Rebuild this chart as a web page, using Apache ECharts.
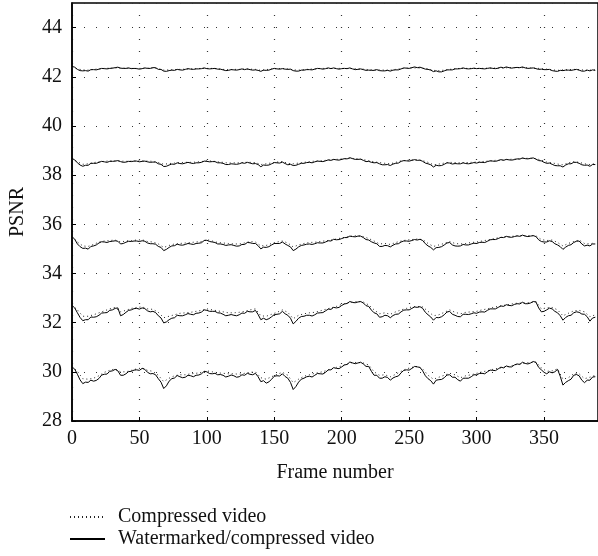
<!DOCTYPE html>
<html><head><meta charset="utf-8">
<script src="https://cdn.jsdelivr.net/npm/echarts@6/dist/echarts.min.js"></script>
<style>html,body{margin:0;padding:0;background:#fff}#c{width:598px;height:556px}</style>
</head><body><div id="c"></div><script>
// frames sampled every 4
const frames4 = [0,4,8,12,16,20,24,28,32,36,40,44,48,52,56,60,64,68,72,76,80,84,88,92,96,100,104,108,112,116,120,124,128,132,136,140,144,148,152,156,160,164,168,172,176,180,184,188,192,196,200,204,208,212,216,220,224,228,232,236,240,244,248,252,256,260,264,268,272,276,280,284,288,292,296,300,304,308,312,316,320,324,328,332,336,340,344,348,352,356,360,364,368,372,376,380,384,388];
// frames sampled every 2
const frames2 = [0,2,4,6,8,10,12,14,16,18,20,22,24,26,28,30,32,34,36,38,40,42,44,46,48,50,52,54,56,58,60,62,64,66,68,70,72,74,76,78,80,82,84,86,88,90,92,94,96,98,100,102,104,106,108,110,112,114,116,118,120,122,124,126,128,130,132,134,136,138,140,142,144,146,148,150,152,154,156,158,160,162,164,166,168,170,172,174,176,178,180,182,184,186,188,190,192,194,196,198,200,202,204,206,208,210,212,214,216,218,220,222,224,226,228,230,232,234,236,238,240,242,244,246,248,250,252,254,256,258,260,262,264,266,268,270,272,274,276,278,280,282,284,286,288,290,292,294,296,298,300,302,304,306,308,310,312,314,316,318,320,322,324,326,328,330,332,334,336,338,340,342,344,346,348,350,352,354,356,358,360,362,364,366,368,370,372,374,376,378,380,382,384,386,388];

const wm1 = [42.42,42.39,42.30,42.25,42.24,42.25,42.23,42.29,42.29,42.28,
42.31,42.34,42.33,42.32,42.34,42.35,42.37,42.39,42.35,42.34,
42.34,42.36,42.33,42.34,42.33,42.31,42.33,42.36,42.34,42.34,
42.37,42.37,42.30,42.30,42.23,42.22,42.25,42.27,42.26,42.30,
42.28,42.27,42.30,42.33,42.31,42.30,42.32,42.32,42.33,42.36,
42.33,42.32,42.33,42.34,42.31,42.31,42.28,42.25,42.26,42.29,
42.28,42.27,42.29,42.32,42.29,42.32,42.29,42.27,42.28,42.26,
42.22,42.27,42.26,42.27,42.31,42.34,42.32,42.31,42.33,42.31,
42.30,42.31,42.25,42.23,42.23,42.27,42.27,42.29,42.29,42.28,
42.31,42.34,42.33,42.31,42.33,42.36,42.33,42.36,42.33,42.31,
42.33,42.34,42.33,42.36,42.32,42.29,42.30,42.32,42.29,42.26,
42.27,42.26,42.26,42.29,42.25,42.24,42.24,42.26,42.23,42.27,
42.28,42.28,42.32,42.36,42.35,42.34,42.37,42.40,42.37,42.39,
42.35,42.31,42.30,42.27,42.21,42.24,42.20,42.20,42.24,42.28,
42.28,42.28,42.32,42.32,42.33,42.36,42.33,42.32,42.33,42.35,
42.33,42.34,42.33,42.32,42.34,42.36,42.34,42.33,42.35,42.39,
42.36,42.40,42.37,42.35,42.37,42.38,42.37,42.40,42.36,42.34,
42.35,42.36,42.33,42.30,42.31,42.29,42.29,42.30,42.25,42.23,
42.22,42.26,42.25,42.27,42.27,42.26,42.28,42.30,42.27,42.23,
42.23,42.27,42.24,42.28,42.26];
const comp1 = [42.40,42.32,42.28,42.27,42.30,42.32,42.34,42.35,42.36,42.35,42.35,42.34,42.34,42.34,42.35,42.36,42.32,42.27,42.28,42.29,42.30,42.31,42.32,42.33,42.34,42.34,42.34,42.32,42.30,42.29,42.30,42.30,42.31,42.31,42.30,42.26,42.29,42.32,42.33,42.34,42.32,42.28,42.27,42.29,42.31,42.32,42.34,42.34,42.34,42.34,42.34,42.34,42.33,42.32,42.31,42.29,42.28,42.28,42.27,42.27,42.30,42.33,42.35,42.36,42.36,42.35,42.32,42.26,42.25,42.27,42.30,42.33,42.34,42.34,42.34,42.34,42.34,42.35,42.35,42.36,42.36,42.37,42.37,42.37,42.37,42.36,42.35,42.33,42.31,42.28,42.26,42.28,42.29,42.30,42.29,42.27,42.27,42.28];

const wm2 = [38.68,38.62,38.50,38.41,38.36,38.40,38.40,38.48,38.48,38.48,
38.52,38.56,38.54,38.52,38.56,38.56,38.57,38.59,38.55,38.52,
38.53,38.56,38.55,38.57,38.57,38.54,38.56,38.57,38.54,38.52,
38.53,38.53,38.46,38.44,38.35,38.36,38.41,38.45,38.44,38.50,
38.47,38.46,38.49,38.52,38.49,38.47,38.50,38.50,38.52,38.57,
38.56,38.54,38.55,38.55,38.50,38.50,38.48,38.43,38.43,38.46,
38.45,38.44,38.46,38.50,38.48,38.52,38.49,38.46,38.47,38.43,
38.34,38.41,38.40,38.41,38.46,38.51,38.50,38.49,38.53,38.47,
38.42,38.44,38.39,38.40,38.44,38.48,38.48,38.51,38.52,38.50,
38.54,38.57,38.56,38.55,38.58,38.62,38.60,38.64,38.62,38.61,
38.64,38.67,38.66,38.71,38.67,38.64,38.64,38.65,38.60,38.55,
38.56,38.52,38.50,38.51,38.46,38.42,38.42,38.43,38.39,38.45,
38.48,38.49,38.56,38.59,38.58,38.57,38.60,38.63,38.60,38.61,
38.56,38.49,38.46,38.42,38.33,38.40,38.38,38.39,38.44,38.50,
38.49,38.45,38.47,38.46,38.46,38.50,38.47,38.46,38.48,38.51,
38.49,38.52,38.52,38.51,38.55,38.58,38.57,38.56,38.59,38.63,
38.60,38.64,38.62,38.61,38.63,38.66,38.65,38.70,38.67,38.66,
38.68,38.70,38.65,38.59,38.58,38.52,38.48,38.49,38.44,38.39,
38.38,38.38,38.33,38.41,38.46,38.46,38.52,38.52,38.48,38.42,
38.40,38.41,38.36,38.43,38.43];
const comp2 = [38.66,38.54,38.44,38.46,38.51,38.54,38.56,38.58,38.58,38.57,38.56,38.57,38.58,38.58,38.57,38.56,38.51,38.44,38.47,38.49,38.51,38.52,38.52,38.53,38.55,38.58,38.57,38.54,38.52,38.49,38.50,38.50,38.52,38.52,38.51,38.43,38.46,38.50,38.53,38.55,38.48,38.46,38.49,38.52,38.55,38.57,38.58,38.60,38.62,38.64,38.66,38.67,38.68,38.66,38.63,38.59,38.54,38.51,38.48,38.46,38.52,38.58,38.60,38.62,38.62,38.59,38.52,38.42,38.45,38.49,38.52,38.51,38.50,38.51,38.52,38.53,38.55,38.57,38.59,38.61,38.62,38.64,38.65,38.67,38.68,38.69,38.67,38.61,38.53,38.50,38.45,38.42,38.50,38.55,38.52,38.46,38.43,38.47];

const wm3 = [35.50,35.39,35.20,35.09,35.02,35.03,34.99,35.10,35.12,35.16,
35.24,35.29,35.28,35.26,35.30,35.31,35.33,35.31,35.20,35.22,
35.27,35.31,35.30,35.32,35.32,35.30,35.33,35.31,35.24,35.21,
35.21,35.19,35.10,35.06,34.93,34.98,35.06,35.12,35.13,35.19,
35.16,35.15,35.18,35.22,35.20,35.18,35.22,35.23,35.25,35.34,
35.35,35.30,35.28,35.26,35.20,35.20,35.18,35.14,35.16,35.17,
35.14,35.11,35.12,35.18,35.18,35.26,35.25,35.22,35.22,35.13,
35.00,35.07,35.06,35.09,35.16,35.22,35.22,35.22,35.28,35.20,
35.14,35.08,34.93,34.99,35.08,35.14,35.16,35.19,35.20,35.18,
35.21,35.25,35.24,35.24,35.28,35.33,35.32,35.39,35.37,35.38,
35.42,35.46,35.46,35.52,35.50,35.49,35.52,35.52,35.46,35.38,
35.36,35.29,35.24,35.21,35.10,35.10,35.14,35.13,35.08,35.15,
35.20,35.21,35.28,35.32,35.32,35.31,35.34,35.38,35.36,35.39,
35.34,35.21,35.12,35.06,34.96,35.05,35.06,35.09,35.16,35.24,
35.26,35.16,35.12,35.11,35.12,35.18,35.16,35.16,35.20,35.23,
35.22,35.26,35.27,35.26,35.31,35.37,35.38,35.38,35.42,35.47,
35.46,35.51,35.48,35.47,35.50,35.53,35.51,35.56,35.52,35.50,
35.52,35.54,35.50,35.37,35.30,35.28,35.28,35.33,35.30,35.21,
35.16,35.09,34.98,35.07,35.14,35.17,35.26,35.31,35.32,35.20,
35.12,35.15,35.12,35.20,35.20];
const comp3 = [35.50,35.28,35.12,35.10,35.18,35.28,35.32,35.34,35.36,35.28,35.32,35.34,35.36,35.37,35.30,35.28,35.20,35.06,35.14,35.20,35.22,35.24,35.26,35.28,35.30,35.38,35.32,35.26,35.24,35.22,35.20,35.20,35.24,35.30,35.28,35.12,35.14,35.22,35.28,35.32,35.24,35.08,35.16,35.22,35.26,35.27,35.30,35.33,35.36,35.40,35.45,35.49,35.52,35.54,35.50,35.42,35.32,35.20,35.22,35.18,35.26,35.32,35.36,35.38,35.40,35.38,35.22,35.10,35.16,35.22,35.30,35.22,35.20,35.22,35.26,35.28,35.32,35.36,35.41,35.45,35.48,35.50,35.52,35.53,35.54,35.54,35.53,35.38,35.34,35.36,35.26,35.12,35.22,35.30,35.36,35.22,35.20,35.26];

const wm4 = [32.70,32.60,32.40,32.21,32.08,32.12,32.12,32.23,32.22,32.24,
32.30,32.39,32.40,32.41,32.50,32.52,32.58,32.60,32.28,32.33,
32.42,32.50,32.52,32.57,32.58,32.55,32.60,32.57,32.48,32.44,
32.46,32.41,32.28,32.19,31.99,32.03,32.12,32.18,32.20,32.30,
32.28,32.28,32.32,32.37,32.34,32.32,32.38,32.39,32.43,32.52,
32.50,32.46,32.46,32.46,32.40,32.39,32.34,32.28,32.30,32.33,
32.30,32.28,32.32,32.39,32.38,32.46,32.44,32.44,32.50,32.33,
32.12,32.18,32.12,32.16,32.24,32.33,32.34,32.36,32.46,32.36,
32.30,32.18,31.95,32.05,32.18,32.25,32.26,32.30,32.30,32.27,
32.32,32.39,32.40,32.41,32.48,32.55,32.54,32.62,32.60,32.62,
32.70,32.76,32.78,32.86,32.82,32.81,32.84,32.86,32.80,32.69,
32.66,32.51,32.40,32.36,32.22,32.24,32.30,32.28,32.20,32.29,
32.34,32.35,32.44,32.51,32.52,32.52,32.58,32.64,32.62,32.65,
32.58,32.42,32.32,32.23,32.10,32.21,32.20,32.24,32.32,32.43,
32.46,32.34,32.30,32.25,32.24,32.34,32.34,32.33,32.36,32.40,
32.38,32.43,32.44,32.43,32.50,32.56,32.56,32.56,32.62,32.68,
32.66,32.73,32.70,32.69,32.74,32.77,32.76,32.83,32.77,32.77,
32.80,32.86,32.84,32.60,32.44,32.46,32.52,32.59,32.56,32.46,
32.40,32.28,32.10,32.21,32.28,32.30,32.40,32.44,32.42,32.35,
32.34,32.24,32.06,32.19,32.22];
const comp4 = [32.72,32.52,32.26,32.26,32.32,32.40,32.48,32.56,32.62,32.44,32.50,32.58,32.62,32.64,32.56,32.54,32.42,32.20,32.26,32.32,32.38,32.40,32.42,32.46,32.50,32.56,32.52,32.48,32.44,32.40,32.40,32.42,32.46,32.52,32.56,32.28,32.26,32.34,32.42,32.52,32.42,32.16,32.30,32.36,32.40,32.42,32.48,32.54,32.60,32.66,32.74,32.80,32.84,32.86,32.84,32.72,32.52,32.36,32.40,32.34,32.44,32.52,32.58,32.64,32.66,32.64,32.46,32.28,32.32,32.42,32.52,32.42,32.36,32.42,32.44,32.46,32.52,32.56,32.62,32.66,32.70,32.74,32.78,32.80,32.80,32.82,32.86,32.56,32.60,32.62,32.52,32.28,32.38,32.48,32.50,32.44,32.24,32.32];

const wm5 = [30.20,30.11,29.90,29.67,29.52,29.58,29.57,29.66,29.62,29.65,
29.73,29.87,29.90,29.91,30.02,30.04,30.10,30.04,29.86,29.86,
29.92,30.01,30.02,30.07,30.08,30.06,30.14,30.10,29.98,29.92,
29.93,29.88,29.72,29.58,29.32,29.43,29.62,29.72,29.75,29.85,
29.80,29.76,29.78,29.86,29.84,29.80,29.86,29.87,29.92,30.02,
30.00,29.93,29.92,29.94,29.88,29.89,29.86,29.79,29.82,29.87,
29.84,29.78,29.80,29.88,29.86,29.94,29.90,29.88,29.94,29.80,
29.60,29.64,29.54,29.59,29.70,29.82,29.84,29.83,29.92,29.81,
29.74,29.57,29.28,29.40,29.58,29.70,29.74,29.80,29.82,29.79,
29.86,29.93,29.92,29.91,29.98,30.08,30.08,30.17,30.14,30.13,
30.20,30.28,30.30,30.40,30.36,30.33,30.36,30.39,30.32,30.22,
30.22,30.02,29.86,29.86,29.74,29.74,29.80,29.77,29.66,29.75,
29.80,29.83,29.96,30.06,30.08,30.07,30.14,30.22,30.20,30.18,
30.04,29.84,29.72,29.64,29.50,29.66,29.68,29.69,29.76,29.87,
29.88,29.78,29.78,29.68,29.62,29.74,29.74,29.74,29.80,29.88,
29.88,29.93,29.94,29.92,30.00,30.07,30.06,30.05,30.12,30.19,
30.16,30.24,30.20,30.20,30.28,30.32,30.30,30.39,30.34,30.32,
30.36,30.42,30.38,30.18,30.08,29.98,29.92,30.00,29.96,30.00,
30.10,29.82,29.46,29.57,29.64,29.70,29.86,29.89,29.84,29.66,
29.56,29.66,29.66,29.79,29.80];
const comp5 = [30.22,30.02,29.72,29.70,29.74,29.84,29.98,30.06,30.12,30.00,30.00,30.06,30.12,30.16,30.06,30.02,29.86,29.60,29.74,29.84,29.88,29.88,29.92,29.94,29.98,30.04,30.00,29.96,29.94,29.92,29.92,29.90,29.94,29.98,30.00,29.76,29.70,29.80,29.90,29.98,29.86,29.56,29.70,29.82,29.88,29.94,29.98,30.04,30.12,30.18,30.24,30.32,30.38,30.38,30.36,30.28,30.00,29.86,29.88,29.80,29.90,30.02,30.12,30.18,30.22,30.12,29.86,29.70,29.78,29.86,29.94,29.88,29.76,29.84,29.88,29.94,30.00,30.04,30.10,30.14,30.18,30.22,30.28,30.32,30.36,30.38,30.40,30.16,30.02,30.04,30.12,29.70,29.76,29.92,29.92,29.72,29.78,29.86];

const compName = 'Compressed video';
const wmName = 'Watermarked/compressed video';
const compressed = [[frames4, comp1], [frames4, comp2], [frames4, comp3], [frames4, comp4], [frames4, comp5]];
const watermarked = [[frames2, wm1], [frames2, wm2], [frames2, wm3], [frames2, wm4], [frames2, wm5]];

const font = '"Liberation Serif", "DejaVu Serif", serif';
const pairs = (fr, arr) => fr.map((f, i) => [f, arr[i]]);
const series = [];
compressed.forEach(([fr, a]) => series.push({
  name: compName, type: 'line', data: pairs(fr, a), showSymbol: false, symbol: 'none',
  lineStyle: { color: '#222', width: 1, type: [1, 3] }, itemStyle: { color: '#222' }, z: 2
}));
watermarked.forEach(([fr, a]) => series.push({
  name: wmName, type: 'line', data: pairs(fr, a), showSymbol: false, symbol: 'none',
  lineStyle: { color: '#000', width: 1, type: 'solid' }, itemStyle: { color: '#000' }, z: 3
}));

const chart = echarts.init(document.getElementById('c'), null, { renderer: 'canvas' });
chart.setOption({
  animation: false,
  backgroundColor: '#fff',
  grid: { left: 71, top: 3, width: 529, height: 418, show: true, borderColor: '#000', borderWidth: 1.5, backgroundColor: 'transparent' },
  legend: {
    data: [compName, wmName], orient: 'vertical', left: 69, top: 507, padding: 0,
    height: 49, itemWidth: 35, itemHeight: 12, itemGap: 2,
    itemStyle: { color: 'rgba(0,0,0,0)', borderColor: 'rgba(0,0,0,0)', borderWidth: 0, opacity: 0 },
    textStyle: { fontFamily: font, fontSize: 20, color: '#111', padding: [0, 0, 0, 8] },
    selectedMode: false
  },
  xAxis: {
    type: 'value', min: 0, max: 390, interval: 50,
    name: 'Frame number', nameLocation: 'middle', nameGap: 42,
    nameTextStyle: { fontFamily: font, fontSize: 20, color: '#111' },
    axisLine: { show: true, lineStyle: { color: '#000', width: 1.5 } },
    axisTick: { show: true, inside: true, length: 4, lineStyle: { color: '#000' } },
    axisLabel: { fontFamily: font, fontSize: 20, color: '#111', margin: 8, showMaxLabel: false },
    splitLine: { show: true, lineStyle: { color: '#333', width: 1.2, type: [1, 11] } }
  },
  yAxis: {
    type: 'value', min: 28, max: 45, interval: 2,
    name: 'PSNR', nameLocation: 'middle', nameGap: 44, nameRotate: 90,
    nameTextStyle: { fontFamily: font, fontSize: 20, color: '#111' },
    axisLine: { show: true, lineStyle: { color: '#000', width: 1.5 } },
    axisTick: { show: true, inside: true, length: 4, lineStyle: { color: '#000' } },
    axisLabel: { fontFamily: font, fontSize: 20, color: '#111', margin: 10, showMaxLabel: false },
    splitLine: { show: true, lineStyle: { color: '#333', width: 1.2, type: [1, 11] } }
  },
  series: series
});
</script></body></html>
